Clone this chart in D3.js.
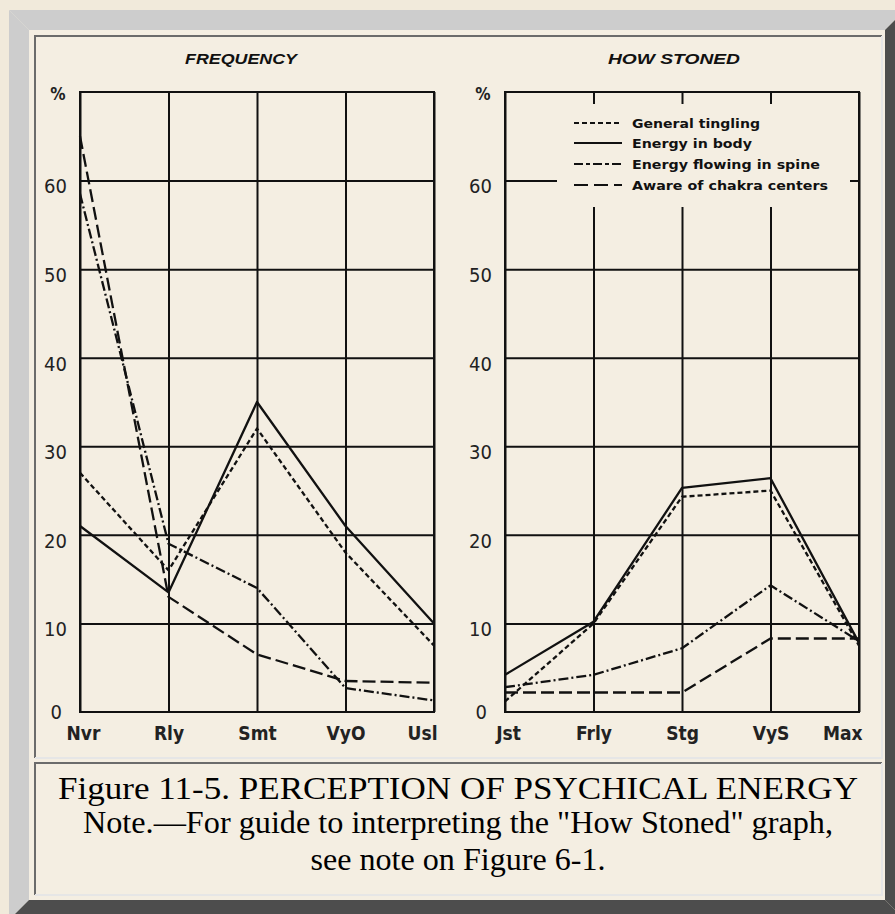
<!DOCTYPE html>
<html><head><meta charset="utf-8">
<script src="https://cdn.jsdelivr.net/npm/d3@7"></script>
<style>html,body{margin:0;padding:0;background:#f1eadb;overflow:hidden}</style>
</head><body><svg id="c" width="895" height="914"></svg>
<script>
// ---- data ----
const seriesNames = ["General tingling","Energy in body","Energy flowing in spine","Aware of chakra centers"];
const freqCategories = ["Nvr","Rly","Smt","VyO","Usl"];
const stonedCategories = ["Jst","Frly","Stg","VyS","Max"];
const yTicks = [0,10,20,30,40,50,60];
const freqTingling = [27,16,32,18,7.5];
const freqBody = [21,13.5,35,21,10];
const freqSpine = [58.5,19,14,2.7,1.3];
const freqChakra = [65,13,6.5,3.5,3.3];
const stonedTingling = [1.2,10,24.3,25,7.5];
const stonedBody = [4.2,10.2,25.3,26.4,7.8];
const stonedSpine = [2.8,4.2,7.2,14.3,8];
const stonedChakra = [2.2,2.2,2.2,8.3,8.3];
const panelTitles = ["FREQUENCY","HOW STONED"];
const captionLines = ["Figure 11-5. PERCEPTION OF PSYCHICAL ENERGY",
  "Note.\u2014For guide to interpreting the \"How Stoned\" graph,",
  "see note on Figure 6-1."];

// ---- styles ----
const dashes = ["5,3", null, "10,3,2,3", "13,5"];
const ink = "#111";
const svg = d3.select("#c");

// frame
svg.append("rect").attr("width",895).attr("height",914).attr("fill","#f1eadb");
const light="#cdcdcd", dark="#4d4d4d";
const poly=(pts,f)=>svg.append("polygon").attr("points",pts.map(p=>p.join(",")).join(" ")).attr("fill",f);
poly([[9,10],[905,10],[885,30],[29,30]],light);
poly([[9,10],[29,30],[29,900],[9,920]],light);
poly([[905,10],[885,30],[885,900],[905,920]],dark);
poly([[9,920],[29,900],[885,900],[905,920]],dark);
svg.append("rect").attr("x",29).attr("y",30).attr("width",856).attr("height",870).attr("fill","#f4eee2");
function cell(x0,y0,x1,y1){
  svg.append("path").attr("d",`M${x0},${y1}V${y0}H${x1}`).attr("fill","none").attr("stroke","#6b6b6b").attr("stroke-width",2);
  svg.append("path").attr("d",`M${x0},${y1}H${x1}V${y0}`).attr("fill","none").attr("stroke","#e6e6e6").attr("stroke-width",2);
}
cell(35,36,882,758);
cell(35,763,882,895);

// ---- panels ----
const y = d3.scaleLinear().domain([0,70]).range([712,92]);
const labelFont = "'Liberation Sans Narrow','DejaVu Sans Condensed',sans-serif";
function panel(x0,x1,cats,series,title,titleCx,titleLen,legend){
  const x = d3.scalePoint().domain(cats).range([x0,x1]);
  const g = svg.append("g");
  // horizontal grid
  g.append("g").attr("transform",`translate(${x0},0)`)
    .call(d3.axisLeft(y).tickValues(yTicks.filter(v=>v>0)).tickSize(-(x1-x0)).tickFormat(""))
    .call(s=>s.select(".domain").remove())
    .call(s=>s.selectAll("line").attr("stroke",ink).attr("stroke-width",2));
  // vertical grid
  g.append("g").attr("transform",`translate(0,${y(0)})`)
    .call(d3.axisBottom(x).tickSize(-(y(0)-y(70))).tickFormat(""))
    .call(s=>s.select(".domain").remove())
    .call(s=>s.selectAll("line").attr("stroke",ink).attr("stroke-width",2));
  if(legend){
    g.append("rect").attr("x",557).attr("y",104).attr("width",293).attr("height",103).attr("fill","#f4eee2");
  }
  g.append("rect").attr("x",x0).attr("y",y(70)).attr("width",x1-x0).attr("height",y(0)-y(70))
    .attr("fill","none").attr("stroke",ink).attr("stroke-width",2);
  // y labels
  g.append("g").attr("transform",`translate(${x0-13},0)`)
    .call(d3.axisLeft(y).tickValues(yTicks).tickSize(0).tickFormat(d3.format("d")))
    .call(s=>s.select(".domain").remove())
    .call(s=>s.selectAll("text").attr("fill","#222").attr("font-family",labelFont)
       .attr("font-size",20).attr("dy",d=>d===0?"0.3em":"0.62em").attr("x",d=>d===0?-5:0));
  // x labels
  g.append("g").attr("transform",`translate(0,${y(0)})`)
    .call(d3.axisBottom(x).tickSize(0).tickPadding(0))
    .call(s=>s.select(".domain").remove())
    .call(s=>s.selectAll("text").attr("fill","#222").attr("font-family",labelFont)
       .attr("font-weight","bold").attr("font-size",19).attr("dy","1.45em")
       .attr("text-anchor",(d,i)=>i===cats.length-1?"end":"middle")
       .attr("x",(d,i)=>i===cats.length-1?3:(i===0?3:0)));
  // % sign
  g.append("text").attr("x",x0-22).attr("y",100).attr("text-anchor","middle")
    .attr("font-family","'DejaVu Sans Condensed',sans-serif").attr("font-size",17).attr("font-weight","bold").attr("fill","#222").text("%");
  // title
  g.append("text").attr("x",titleCx).attr("y",64).attr("text-anchor","middle")
    .attr("font-family","'Liberation Sans',sans-serif").attr("font-weight","bold").attr("font-style","italic")
    .attr("font-size",15).attr("textLength",titleLen).attr("lengthAdjust","spacingAndGlyphs").attr("fill","#111").text(title);
  // lines
  const line = d3.line().x((d,i)=>x(cats[i])).y(d=>y(d));
  series.forEach((s,k)=>{
    g.append("path").attr("d",line(s)).attr("fill","none").attr("stroke",ink).attr("stroke-width",2.3)
      .attr("stroke-dasharray",dashes[k]).attr("stroke-linejoin","round");
  });
  if(legend){
    const ly=[123,143,164,185], lens=[128,120,188,196];
    seriesNames.forEach((n,k)=>{
      g.append("line").attr("x1",574).attr("x2",622).attr("y1",ly[k]).attr("y2",ly[k])
        .attr("stroke",ink).attr("stroke-width",2).attr("stroke-dasharray",k===0?"5,3":k===2?"9,3,4,3":k===3?"14,6":null);
      g.append("text").attr("x",632).attr("y",ly[k]+4.5).attr("font-family","'DejaVu Sans',sans-serif")
        .attr("font-weight","bold").attr("font-size",12).attr("textLength",lens[k]).attr("lengthAdjust","spacingAndGlyphs")
        .attr("fill","#111").text(n);
    });
  }
}
panel(80,434,freqCategories,[freqTingling,freqBody,freqSpine,freqChakra],panelTitles[0],241,112,false);
panel(505,859,stonedCategories,[stonedTingling,stonedBody,stonedSpine,stonedChakra],panelTitles[1],674,132,true);

// caption
const cap = svg.append("g").attr("font-family","'Liberation Serif','Times New Roman',serif").attr("fill","#000").attr("text-anchor","middle");
const capY=[799,833,870], capLen=[800,750,295];
captionLines.forEach((t,i)=>{
  cap.append("text").attr("x",458).attr("y",capY[i]).attr("font-size",32)
    .attr("textLength",capLen[i]).attr("lengthAdjust","spacingAndGlyphs").text(t);
});
</script></body></html>
